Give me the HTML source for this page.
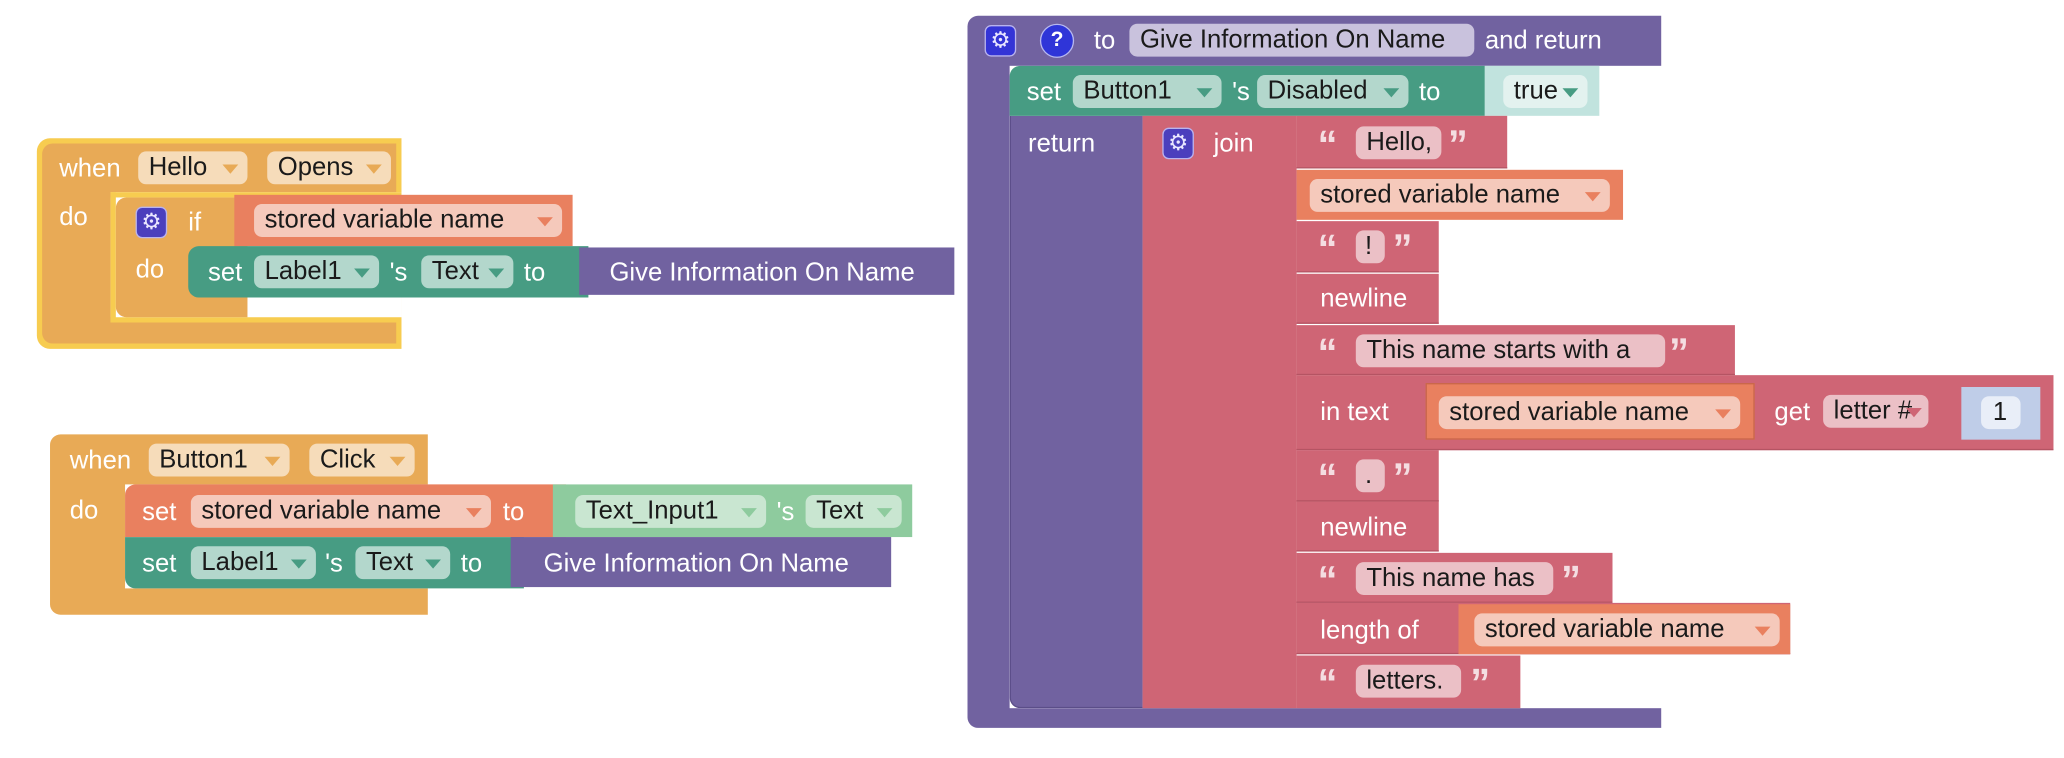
<!DOCTYPE html>
<html><head><meta charset="utf-8"><style>
html,body{margin:0;padding:0;background:#fff;}
#root{position:relative;width:1568px;height:576px;transform:scale(1.31633);transform-origin:0 0;font-family:"Liberation Sans",sans-serif;font-size:19.5px;}
#wrap{width:2064px;height:758px;overflow:hidden;position:relative;}
.b{position:absolute;box-sizing:border-box;}
.t{position:absolute;color:#fff;line-height:24px;white-space:nowrap;}
.p{position:absolute;height:25px;border-radius:6px;color:#1a1a1a;line-height:25px;padding-left:8px;box-sizing:border-box;white-space:nowrap;}
.a{position:absolute;right:7px;top:10px;width:0;height:0;border-left:6px solid transparent;border-right:6px solid transparent;}
.gear{position:absolute;width:24px;height:24px;border-radius:5px;background:#4b3fbd;border:1px solid #b9b3ee;box-sizing:border-box;color:#e9e6ff;font-size:17px;line-height:22px;text-align:center;}
.q{position:absolute;color:#f4dde1;font-weight:bold;font-size:30px;line-height:30px;font-family:"Liberation Sans",sans-serif;}
</style></head><body><div id="wrap"><div id="root">

<!-- Block 1: when Hello Opens -->
<div class="b" style="left:28px;top:105px;width:277px;height:160px;background:#f7cc50;border-radius:10px 0 0 10px;"></div>
<div class="b" style="left:32px;top:109px;width:269px;height:152px;background:#e8aa56;border-radius:8px 0 0 8px;"></div>
<div class="b" style="left:84px;top:146px;width:221px;height:99px;background:#fff;"></div>
<div class="b" style="left:84px;top:146px;width:221px;height:4px;background:#f7cc50;"></div>
<div class="b" style="left:84px;top:146px;width:4px;height:99px;background:#f7cc50;"></div>
<div class="b" style="left:84px;top:241px;width:221px;height:4px;background:#f7cc50;"></div>
<div class="b" style="left:88px;top:150px;width:100px;height:91px;background:#e8aa56;border-radius:8px 0 0 8px;"></div>
<div class="t" style="left:45px;top:116px;">when</div>
<div class="p" style="left:105px;top:115px;width:83px;background:#f6dcba;">Hello<span class="a" style="border-top:7px solid #e8aa56;"></span></div>
<div class="p" style="left:203px;top:115px;width:94px;background:#f6dcba;">Opens<span class="a" style="border-top:7px solid #e8aa56;"></span></div>
<div class="t" style="left:45px;top:153px;">do</div>
<div class="gear" style="left:103px;top:157px;">⚙</div>
<div class="t" style="left:143px;top:157px;">if</div>
<div class="b" style="left:178px;top:148px;width:257px;height:39px;background:#e9805f;"></div>
<div class="p" style="left:193px;top:155px;width:234px;background:#f5c9bb;">stored variable name<span class="a" style="border-top:7px solid #e9805f;"></span></div>
<div class="t" style="left:103px;top:193px;">do</div>
<div class="b" style="left:143px;top:187px;width:304px;height:39px;background:#479c83;border-radius:8px 0 0 8px;"></div>
<div class="t" style="left:158px;top:195px;">set</div>
<div class="p" style="left:193px;top:194px;width:95px;background:#b3d7cc;">Label1<span class="a" style="border-top:7px solid #479c83;"></span></div>
<div class="t" style="left:296px;top:195px;">'s</div>
<div class="p" style="left:320px;top:194px;width:70px;background:#b3d7cc;">Text<span class="a" style="border-top:7px solid #479c83;"></span></div>
<div class="t" style="left:398px;top:195px;">to</div>
<div class="b" style="left:440px;top:188px;width:285px;height:36px;background:#7162a0;"></div>
<div class="t" style="left:463px;top:195px;">Give Information On Name</div>

<!-- Block 2: when Button1 Click -->
<div class="b" style="left:38px;top:330px;width:287px;height:137px;background:#e8aa56;border-radius:8px 0 0 8px;"></div>
<div class="b" style="left:95px;top:368px;width:230px;height:79px;background:#fff;"></div>
<div class="t" style="left:53px;top:338px;">when</div>
<div class="p" style="left:113px;top:337px;width:107px;background:#f6dcba;">Button1<span class="a" style="border-top:7px solid #e8aa56;"></span></div>
<div class="p" style="left:235px;top:337px;width:80px;background:#f6dcba;">Click<span class="a" style="border-top:7px solid #e8aa56;"></span></div>
<div class="t" style="left:53px;top:376px;">do</div>
<div class="b" style="left:95px;top:368px;width:335px;height:40px;background:#e9805f;border-radius:8px 0 0 0;"></div>
<div class="t" style="left:108px;top:377px;">set</div>
<div class="p" style="left:145px;top:376px;width:228px;background:#f5c9bb;">stored variable name<span class="a" style="border-top:7px solid #e9805f;"></span></div>
<div class="t" style="left:382px;top:377px;">to</div>
<div class="b" style="left:420px;top:368px;width:273px;height:40px;background:#8ecb9e;"></div>
<div class="p" style="left:437px;top:376px;width:145px;background:#c9e6d1;">Text_Input1<span class="a" style="border-top:7px solid #8ecb9e;"></span></div>
<div class="t" style="left:590px;top:377px;">'s</div>
<div class="p" style="left:612px;top:376px;width:73px;background:#c9e6d1;">Text<span class="a" style="border-top:7px solid #8ecb9e;"></span></div>
<div class="b" style="left:95px;top:408px;width:303px;height:39px;background:#479c83;border-radius:0 0 0 8px;"></div>
<div class="t" style="left:108px;top:416px;">set</div>
<div class="p" style="left:145px;top:415px;width:95px;background:#b3d7cc;">Label1<span class="a" style="border-top:7px solid #479c83;"></span></div>
<div class="t" style="left:247px;top:416px;">'s</div>
<div class="p" style="left:270px;top:415px;width:72px;background:#b3d7cc;">Text<span class="a" style="border-top:7px solid #479c83;"></span></div>
<div class="t" style="left:350px;top:416px;">to</div>
<div class="b" style="left:388px;top:408px;width:289px;height:38px;background:#7162a0;"></div>
<div class="t" style="left:413px;top:416px;">Give Information On Name</div>

<!-- Block 3: procedure -->
<div class="b" style="left:735px;top:12px;width:527px;height:541px;background:#7162a0;border-radius:8px 0 0 8px;"></div>
<div class="b" style="left:767px;top:50px;width:496px;height:488px;background:#fff;"></div>
<div class="b" style="left:767px;top:88px;width:101px;height:450px;background:#7162a0;border-left:1px solid #5b4e88;border-bottom:1px solid #5b4e88;border-radius:0 0 0 8px;"></div>
<div class="gear" style="left:748px;top:19px;background:#3434d6;">⚙</div>
<div class="b" style="left:790px;top:18px;width:26px;height:26px;border-radius:50%;background:#2f35d8;border:1px solid #b7b8f0;color:#fff;font-weight:bold;font-size:16px;line-height:24px;text-align:center;">?</div>
<div class="t" style="left:831px;top:19px;">to</div>
<div class="p" style="left:858px;top:18px;width:262px;background:#c9c2dd;">Give Information On Name</div>
<div class="t" style="left:1128px;top:19px;">and return</div>
<div class="b" style="left:767px;top:50px;width:361px;height:38px;background:#479c83;border-radius:8px 0 0 0;"></div>
<div class="t" style="left:780px;top:58px;">set</div>
<div class="p" style="left:815px;top:57px;width:113px;background:#b3d7cc;">Button1<span class="a" style="border-top:7px solid #479c83;"></span></div>
<div class="t" style="left:936px;top:58px;">'s</div>
<div class="p" style="left:955px;top:57px;width:115px;background:#b3d7cc;">Disabled<span class="a" style="border-top:7px solid #479c83;"></span></div>
<div class="t" style="left:1078px;top:58px;">to</div>
<div class="b" style="left:1128px;top:50px;width:87px;height:38px;background:#c1e3de;"></div>
<div class="p" style="left:1142px;top:57px;width:64px;background:#e3f2ef;">true<span class="a" style="border-top:7px solid #479c83;"></span></div>
<div class="t" style="left:781px;top:97px;">return</div>
<div class="b" style="left:868px;top:88px;width:117px;height:450px;background:#cf6575;"></div>
<div class="gear" style="left:883px;top:97px;">⚙</div>
<div class="t" style="left:922px;top:97px;">join</div>

<!-- join items -->
<div class="b" style="left:985px;top:88px;width:160px;height:40px;background:#cf6575;border-bottom:1px solid #b55463;"></div>
<div class="q" style="left:1001px;top:96px;">“</div><div class="p" style="left:1030px;top:96px;width:65px;background:#ebc0c6;">Hello,</div><div class="q" style="left:1100px;top:96px;">”</div>

<div class="b" style="left:985px;top:129px;width:248px;height:38px;background:#e9805f;"></div>
<div class="p" style="left:995px;top:136px;width:228px;background:#f5c9bb;">stored variable name<span class="a" style="border-top:7px solid #e9805f;"></span></div>

<div class="b" style="left:985px;top:168px;width:108px;height:39px;background:#cf6575;border-bottom:1px solid #b55463;"></div>
<div class="q" style="left:1001px;top:175px;">“</div><div class="p" style="left:1030px;top:175px;width:22px;background:#ebc0c6;padding-left:7px;">!</div><div class="q" style="left:1058px;top:175px;">”</div>

<div class="b" style="left:985px;top:208px;width:108px;height:38px;background:#cf6575;border-bottom:1px solid #b55463;"></div>
<div class="t" style="left:1003px;top:215px;">newline</div>

<div class="b" style="left:985px;top:247px;width:333px;height:38px;background:#cf6575;border-bottom:1px solid #b55463;"></div>
<div class="q" style="left:1001px;top:254px;">“</div><div class="p" style="left:1030px;top:254px;width:235px;background:#ebc0c6;">This name starts with a</div><div class="q" style="left:1268px;top:254px;">”</div>

<div class="b" style="left:985px;top:285px;width:575px;height:57px;background:#cf6575;border-bottom:1px solid #b55463;"></div>
<div class="t" style="left:1003px;top:301px;">in text</div>
<div class="b" style="left:1083px;top:291px;width:250px;height:43px;background:#e9805f;border:1px solid #c9664a;"></div>
<div class="p" style="left:1093px;top:301px;width:229px;background:#f5c9bb;">stored variable name<span class="a" style="border-top:7px solid #e9805f;"></span></div>
<div class="t" style="left:1348px;top:301px;">get</div>
<div class="p" style="left:1385px;top:300px;width:80px;background:#ebc0c6;">letter #<span class="a" style="border-top:7px solid #cf6575;right:5px;"></span></div>
<div class="b" style="left:1490px;top:294px;width:60px;height:40px;background:#bfcde8;"></div>
<div class="p" style="left:1505px;top:301px;width:30px;background:#e9eef8;padding-left:9px;">1</div>

<div class="b" style="left:985px;top:342px;width:108px;height:39px;background:#cf6575;border-bottom:1px solid #b55463;"></div>
<div class="q" style="left:1001px;top:349px;">“</div><div class="p" style="left:1030px;top:349px;width:22px;background:#ebc0c6;padding-left:7px;">.</div><div class="q" style="left:1058px;top:349px;">”</div>

<div class="b" style="left:985px;top:381px;width:108px;height:38px;background:#cf6575;border-bottom:1px solid #b55463;"></div>
<div class="t" style="left:1003px;top:389px;">newline</div>

<div class="b" style="left:985px;top:420px;width:240px;height:38px;background:#cf6575;border-bottom:1px solid #b55463;"></div>
<div class="q" style="left:1001px;top:427px;">“</div><div class="p" style="left:1030px;top:427px;width:150px;background:#ebc0c6;">This name has</div><div class="q" style="left:1186px;top:427px;">”</div>

<div class="b" style="left:985px;top:458px;width:375px;height:39px;background:#cf6575;border-bottom:1px solid #b55463;"></div>
<div class="t" style="left:1003px;top:467px;">length of</div>
<div class="b" style="left:1108px;top:459px;width:252px;height:38px;background:#e9805f;"></div>
<div class="p" style="left:1120px;top:466px;width:232px;background:#f5c9bb;">stored variable name<span class="a" style="border-top:7px solid #e9805f;"></span></div>

<div class="b" style="left:985px;top:498px;width:170px;height:40px;background:#cf6575;"></div>
<div class="q" style="left:1001px;top:505px;">“</div><div class="p" style="left:1030px;top:505px;width:80px;background:#ebc0c6;">letters.</div><div class="q" style="left:1117px;top:505px;">”</div>

</div></div></body></html>
